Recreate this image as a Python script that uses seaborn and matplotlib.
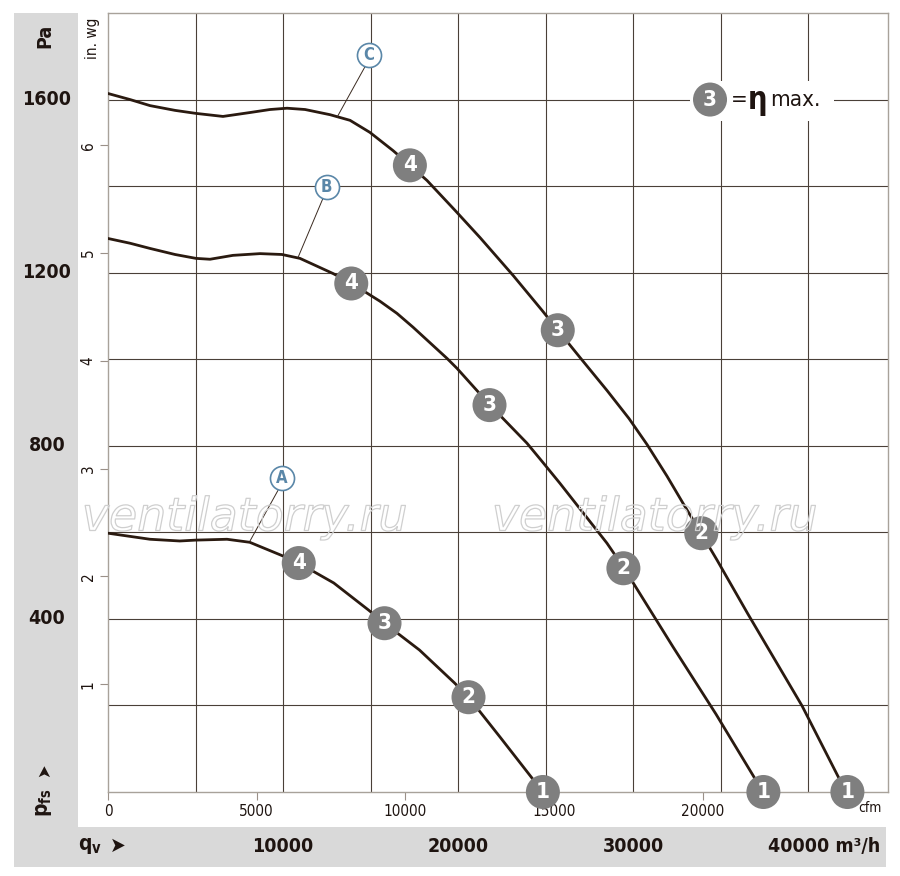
import matplotlib
matplotlib.use('Agg')
import numpy as np
import matplotlib.pyplot as plt
import seaborn as sns
import matplotlib.patheffects as pe
from matplotlib.patches import Rectangle
from matplotlib.transforms import blended_transform_factory

# Fan curves: flow in m3/h, static pressure in Pa
a_q = [0, 2400, 4100, 5000, 6800, 8100, 9900, 10900, 12900, 14900, 15800, 17800, 19800,
       20600, 22400, 24850]
a_p = [598, 584, 580, 582, 584, 577, 547, 529, 483, 420, 390, 328, 252, 219, 127, 0]
b_q = [0, 1260, 2400, 3830, 5030, 5830, 7140, 8690, 9940, 10970, 12860, 13940, 14910,
       15540, 16510, 17430, 19370, 19940, 21830, 23940, 24800, 25830, 28510, 29490, 32290,
       34740, 37430]
b_p = [1279, 1268, 1256, 1242, 1233, 1231, 1240, 1244, 1242, 1233, 1198, 1175, 1150,
       1134, 1106, 1074, 1002, 979, 894, 806, 764, 713, 575, 517, 335,
       180, 0]
c_q = [0, 1260, 2400, 3830, 5030, 6570, 8110, 9260, 10230, 11260, 12690, 13830, 14970,
       16290, 17260, 18230, 19830, 21260, 23140, 24800, 25710, 26970, 28510, 29770, 30800,
       31940, 32860, 33890, 34800, 36570, 39660, 42170]
c_p = [1614, 1600, 1586, 1575, 1568, 1561, 1570, 1577, 1580, 1577, 1565, 1552, 1524,
       1482, 1448, 1413, 1344, 1281, 1194, 1113, 1067, 1004, 928, 863, 803,
       730, 667, 598, 536, 411, 199, 0]

# operating point markers (4, 3, 2, 1) on each curve
mark_num = ['4', '3', '2', '1']
a_mq = [10900, 15800, 20600, 24850]
a_mp = [529, 390, 219, 0]
b_mq = [13900, 21800, 29450, 37450]
b_mp = [1175, 894, 517, 0]
c_mq = [17250, 25700, 33900, 42250]
c_mp = [1448, 1067, 598, 0]

# curve labels and leader lines
curve_names = ['A', 'B', 'C']
name_q = [9950, 12500, 14900]
name_p = [725, 1399, 1704]
lead_q0 = [9714, 12286, 14686]
lead_p0 = [697, 1372, 1676]
lead_q1 = [8114, 10857, 13086]
lead_p1 = [580, 1235, 1559]

# axes / tick values
cfm_ticks = [0, 5000, 10000, 15000, 20000]
inwg_ticks = [1, 2, 3, 4, 5, 6]
pa_labels = [400, 800, 1200, 1600]
qv_labels = [10000, 20000, 30000]
CFM = 1.699     # m3/h per cfm
INWG = 249.09   # Pa per in. wg

sns.set_theme(style='white')
plt.rcParams['font.family'] = ['DejaVu Sans']
plt.rcParams['font.stretch'] = 'condensed'

fig = plt.figure(figsize=(9, 8.76), dpi=100)
W, H = 900, 876
ink = '#1e1410'

# grey label bands
band = '#d9d9d9'
fig.patches.append(Rectangle((14 / W, 1 - 827 / H), 64 / W, 814 / H, transform=fig.transFigure,
                             facecolor=band, edgecolor='none', zorder=-1))
fig.patches.append(Rectangle((14 / W, 1 - 867 / H), 872 / W, 40 / H, transform=fig.transFigure,
                             facecolor=band, edgecolor='none', zorder=-1))

ax = fig.add_axes([108 / W, 1 - 792 / H, 780 / W, 779 / H])
ax.set_xlim(0, 44570)
ax.set_ylim(0, 1800)

line_col = '#2a1a10'
for q, p in [(a_q, a_p), (b_q, b_p), (c_q, c_p)]:
    sns.lineplot(x=q, y=p, ax=ax, sort=False, estimator=None, color=line_col,
                 linewidth=2.0, zorder=3)

# grid on minor ticks
ax.set_xticks(np.arange(5000, 44000, 5000), minor=True)
ax.set_yticks(np.arange(200, 1800, 200), minor=True)
ax.grid(which='minor', color='#4a4038', linewidth=0.8)
ax.grid(which='major', visible=False)
ax.tick_params(which='minor', length=0)

# cfm ticks along the bottom, in. wg ticks on the left
ax.set_xticks([c * CFM for c in cfm_ticks])
ax.set_xticklabels([str(c) for c in cfm_ticks])
ax.set_yticks([v * INWG for v in inwg_ticks])
ax.set_yticklabels([str(v) for v in inwg_ticks], rotation=90, va='center')
ax.tick_params(which='major', direction='out', length=6, width=0.8, color='#9a9088',
               labelsize=11, labelcolor=ink, pad=3, bottom=True, left=True)
for s in ax.spines.values():
    s.set_color('#a8a29a')
    s.set_linewidth(1.0)

ax.text(43540, -38, 'cfm', ha='center', va='center', fontsize=10, color=ink)

# operating point markers
for mq, mp in [(a_mq, a_mp), (b_mq, b_mp), (c_mq, c_mp)]:
    sns.scatterplot(x=mq, y=mp, ax=ax, s=600, color='#7f7f7f', edgecolor='none',
                    zorder=5, clip_on=False, legend=False)
    for q, p, n in zip(mq, mp, mark_num):
        ax.text(q, p, n, ha='center', va='center', color='white', fontsize=16,
                fontweight='bold', zorder=6, clip_on=False)

# curve names A, B, C
blue = '#5a87a8'
for n, q, p, q0, p0, q1, p1 in zip(curve_names, name_q, name_p, lead_q0, lead_p0, lead_q1, lead_p1):
    ax.plot([q0, q1], [p0, p1], color='#3a2a20', linewidth=0.7, zorder=4)
    ax.scatter([q], [p], s=300, facecolor='white', edgecolor=blue, linewidth=1.2, zorder=5)
    ax.text(q, p, n, ha='center', va='center', color=blue, fontsize=12, fontweight='bold', zorder=6)

# eta max legend
ax.add_patch(Rectangle((33250, 1551), 8250, 93, facecolor='white', edgecolor='none', zorder=2))
ax.scatter([34400], [1600], s=600, color='#7f7f7f', edgecolor='none', zorder=5)
ax.text(34400, 1600, '3', ha='center', va='center', color='white', fontsize=16,
        fontweight='bold', zorder=6)
ax.text(36060, 1600, '=', ha='center', va='center', fontsize=16, color=ink, zorder=6)
ax.text(36550, 1595, 'η', ha='left', va='center', fontsize=22, color=ink, zorder=6,
        fontweight='bold')
ax.text(37850, 1600, 'max.', ha='left', va='center', fontsize=16, color=ink, zorder=6)

# watermark
for wx in [245, 655]:
    fig.text(wx / W, 1 - 518 / H, 'ventilatorry.ru', ha='center', va='center', fontsize=33,
             style='italic', color=(1, 1, 1, 0), zorder=2, fontstretch='normal',
             path_effects=[pe.Stroke(linewidth=0.9, foreground='#cfcfcf')])

# left band labels
tr_left = blended_transform_factory(fig.transFigure, ax.transData)
for v in pa_labels:
    ax.text(47 / W, v, str(v), transform=tr_left, ha='center', va='center', fontsize=14,
            fontweight='bold', color=ink)
fig.text(45 / W, 1 - 36 / H, 'Pa', rotation=90, ha='center', va='center', fontsize=14,
         fontweight='bold', color=ink)
fig.text(44 / W, 1 - 803 / H, r'p$_{\mathbf{fs}}$', rotation=90, ha='center', va='center',
         fontsize=15, fontweight='bold', color=ink)
fig.text(44 / W, 1 - 770 / H, '➤', rotation=90, ha='center', va='center', fontsize=13,
         color=ink)
fig.text(92 / W, 1 - 38 / H, 'in. wg', rotation=90, ha='center', va='center', fontsize=11,
         color=ink)

# bottom band labels
tr_bot = blended_transform_factory(ax.transData, fig.transFigure)
for v in qv_labels:
    ax.text(v, 1 - 846 / H, str(v), transform=tr_bot, ha='center', va='center', fontsize=14,
            fontweight='bold', color=ink)
fig.text(880 / W, 1 - 846 / H, '40000 m³/h', ha='right', va='center', fontsize=14,
         fontweight='bold', color=ink)
fig.text(90 / W, 1 - 846 / H, r'q$_{\mathbf{v}}$', ha='center', va='center', fontsize=15,
         fontweight='bold', color=ink)
fig.text(118 / W, 1 - 846 / H, '➤', ha='center', va='center', fontsize=15, color=ink)

fig.savefig('out.png', dpi=100, facecolor='white')
